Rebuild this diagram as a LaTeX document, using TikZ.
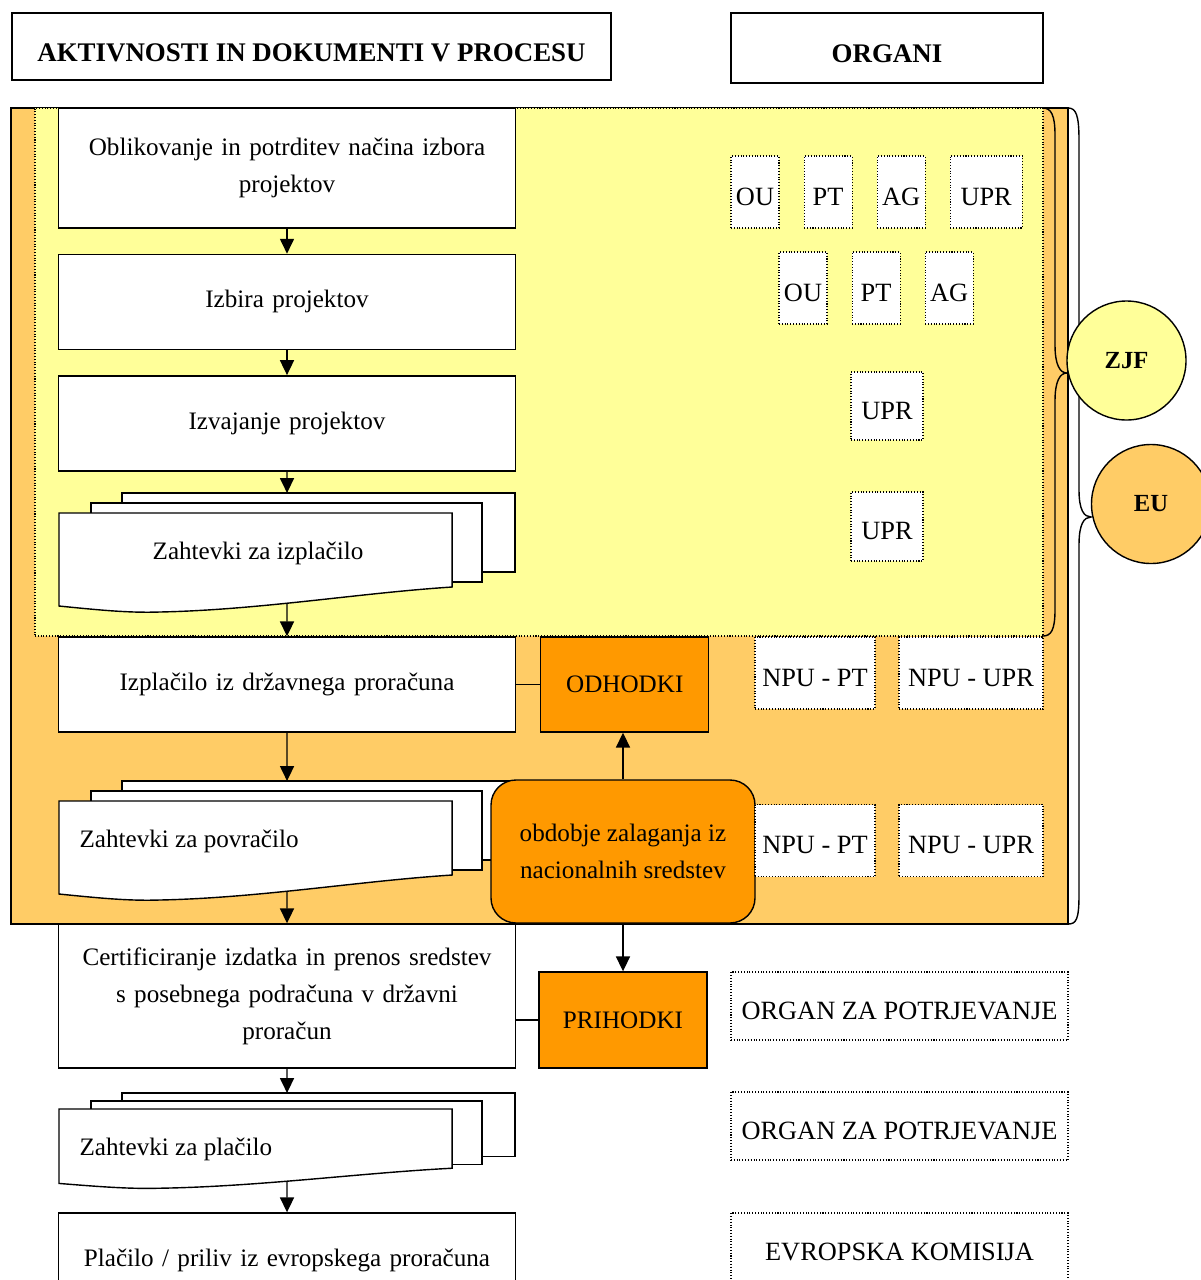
\documentclass[tikz,border=0pt]{standalone}
\usepackage{fontspec}
\setmainfont{Liberation Serif}
\usepackage{tikz}
\usetikzlibrary{arrows.meta, positioning, calc}
\definecolor{zjfyellow}{HTML}{FFFF99}
\definecolor{euorange}{HTML}{FFCC66}
\definecolor{moneyorange}{HTML}{FF9900}

% sklop treh listov: #1 ime, #2 x, #3 y (levo zgoraj sprednjega lista), #4 enota y
\newcommand{\docstack}[4]{%
  \begin{scope}[xshift=#2cm, yshift=#3cm, x=0.02cm, y=#4cm]
    \filldraw[docpage] (63,-20) rectangle (456,59);
    \filldraw[docpage] (32,-10) rectangle (423,69);
    \filldraw[docpage] (0,0) -- (393,0) -- (393,74) .. controls (300,80) and (200,97) .. (100,99) .. controls (70,100) and (40,97) .. (0,93) -- cycle;
    \coordinate (#1-top) at (228,-20);
    \coordinate (#1-bot) at (228,90);
  \end{scope}}

\begin{document}
\begin{tikzpicture}[
        line width=0.8pt,
        every node/.style={font=\fontsize{14.3}{21}\selectfont},
        header/.style={rectangle, draw, fill=white, text centered, text height=0.6cm, font=\fontsize{15.3}{18}\selectfont\bfseries},
        flowbox/.style={rectangle, draw, fill=white, minimum width=9.12cm, minimum height=1.9cm, text width=8.9cm, align=center},
        docpage/.style={draw, fill=white},
        money/.style={rectangle, draw, fill=moneyorange, minimum width=3.36cm, minimum height=1.9cm},
        phase/.style={rectangle, draw, fill=moneyorange, rounded corners=0.5cm, minimum width=5.28cm, minimum height=2.86cm, align=center},
        organ/.style={rectangle, draw, densely dotted, line width=0.6pt, fill=white, inner sep=0pt, minimum width=0.96cm, minimum height=1.44cm, text height=0.54cm, font=\fontsize{15}{18}\selectfont},
        wide/.style={organ, minimum width=6.74cm, minimum height=1.36cm},
        zone/.style={rectangle, inner sep=0pt, outer sep=0pt, anchor=north west},
        fund/.style={circle, draw, inner sep=0pt, minimum size=2.38cm, font=\fontsize{14}{17}\selectfont\bfseries},
        flow/.style={-{Triangle[length=8.5pt, width=8pt]}},
        brace/.style={line width=0.8pt},
    ]
    \useasboundingbox (0,0) rectangle (24.02,-25.6);

    % Naslova
    \node[header, minimum width=11.98cm, minimum height=1.34cm] (hdact) at (6.23,-0.93) {AKTIVNOSTI IN DOKUMENTI V PROCESU};
    \node[header, minimum width=6.24cm, minimum height=1.4cm] (hdorg) at (17.74,-0.96) {ORGANI};

    % Obmocji EU in ZJF
    \node[zone, draw, fill=euorange, minimum width=21.14cm, minimum height=16.32cm] (euzone) at (0.22,-2.16) {};
    \node[zone, draw, densely dotted, line width=0.6pt, fill=zjfyellow, minimum width=20.16cm, minimum height=10.56cm] (zjfzone) at (0.70,-2.16) {};

    % Zavita oklepaja
    \coordinate (zjftip) at (21.34,-7.46);
    \coordinate (eutip) at (21.82,-10.34);
    \draw[brace] (zjfzone.north east) .. controls (21.02,-2.16) and (21.10,-2.30) .. (21.10,-2.70) -- (21.10,-6.90)
        .. controls (21.10,-7.30) and (21.20,-7.46) .. (zjftip) .. controls (21.20,-7.46) and (21.10,-7.62) .. (21.10,-8.02)
        -- (21.10,-12.20) .. controls (21.10,-12.60) and (21.02,-12.72) .. (zjfzone.south east);
    \draw[brace] (euzone.north east) .. controls (21.52,-2.16) and (21.58,-2.30) .. (21.58,-2.80) -- (21.58,-9.80)
        .. controls (21.58,-10.20) and (21.68,-10.34) .. (eutip) .. controls (21.68,-10.34) and (21.58,-10.48) .. (21.58,-10.90)
        -- (21.58,-17.90) .. controls (21.58,-18.40) and (21.52,-18.48) .. (euzone.south east);
    \node[fund, fill=zjfyellow] (zjf) at (22.53,-7.21) {ZJF};
    \node[fund, fill=euorange] (eu) at (23.02,-10.08) {EU};

    % Aktivnosti
    \node[flowbox, minimum height=2.4cm] (oblik) at (5.74,-3.36) {Oblikovanje in potrditev načina izbora\\projektov};
    \node[flowbox, below=0.5cm of oblik] (izbira) {Izbira projektov};
    \node[flowbox, below=0.5cm of izbira] (izvaj) {Izvajanje projektov};

    \docstack{dizp}{1.18}{-10.26}{-0.02}
    \node (zahizp) at (5.16,-11.06) {Zahtevki za izplačilo};

    \node[flowbox] (izplac) at (5.74,-13.69) {Izplačilo iz državnega proračuna};
    \node[money, right=0.48cm of izplac] (odhodki) {ODHODKI};

    \docstack{dpov}{1.18}{-16.02}{-0.02}
    \node[anchor=west] (zahpov) at (1.46,-16.82) {Zahtevki za povračilo};

    \node[phase] (obdobje) at (12.46,-17.03) {obdobje zalaganja iz\\nacionalnih sredstev};

    \node[flowbox, minimum height=2.88cm] (certif) at (5.74,-19.92) {Certificiranje izdatka in prenos sredstev\\s posebnega podračuna v državni\\proračun};
    \node[money, minimum height=1.92cm] (prihodki) at (12.46,-20.40) {PRIHODKI};

    \docstack{dpla}{1.18}{-22.18}{-0.016}
    \node[anchor=west] (zahpla) at (1.46,-22.98) {Zahtevki za plačilo};

    \node[flowbox] (placilo) at (5.74,-25.21) {Plačilo / priliv iz evropskega proračuna};

    % Povezave
    \draw[flow] (oblik) -- (izbira);
    \draw[flow] (izbira) -- (izvaj);
    \draw[flow] (izvaj.south) -- (dizp-top);
    \draw[flow] (dizp-bot) -- (izplac.north);
    \draw (izplac) -- (odhodki);
    \draw[flow] (izplac.south) -- (dpov-top);
    \draw[flow] (dpov-bot) -- (certif.north);
    \draw[flow] (obdobje) -- (obdobje |- odhodki.south);
    \draw[flow] (obdobje) -- (prihodki);
    \draw (prihodki.west) -- (prihodki.west -| certif.east);
    \draw[flow] (certif.south) -- (dpla-top);
    \draw[flow] (dpla-bot) -- (placilo.north);

    % Organi
    \node[organ] (ou1) at (15.10,-3.84) {OU};
    \node[organ, right=0.48cm of ou1] (pt1) {PT};
    \node[organ, right=0.48cm of pt1] (ag1) {AG};
    \node[organ, right=0.48cm of ag1, minimum width=1.44cm] (upr1) {UPR};

    \node[organ] (ou2) at (16.06,-5.76) {OU};
    \node[organ, right=0.48cm of ou2] (pt2) {PT};
    \node[organ, right=0.48cm of pt2] (ag2) {AG};

    \node[organ, minimum width=1.44cm, minimum height=1.36cm] (upr3) at (17.74,-8.12) {UPR};
    \node[organ, minimum width=1.44cm, minimum height=1.38cm] (upr4) at (17.74,-10.53) {UPR};

    \node[organ, minimum width=2.4cm] (npupt1) at (16.30,-13.46) {NPU - PT};
    \node[organ, minimum width=2.88cm] (npuupr1) at (19.42,-13.46) {NPU - UPR};
    \node[organ, minimum width=2.4cm] (npupt2) at (16.30,-16.81) {NPU - PT};
    \node[organ, minimum width=2.88cm] (npuupr2) at (19.42,-16.81) {NPU - UPR};

    \node[wide] (potrj1) at (17.99,-20.12) {ORGAN ZA POTRJEVANJE};
    \node[wide] (potrj2) at (17.99,-22.52) {ORGAN ZA POTRJEVANJE};
    \node[wide] (ek) at (17.99,-24.94) {EVROPSKA KOMISIJA};

\end{tikzpicture}
\end{document}
